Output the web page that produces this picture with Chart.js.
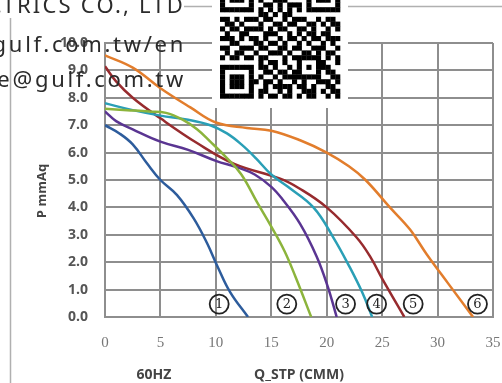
<!DOCTYPE html>
<html>
<head>
<meta charset="utf-8">
<script src="https://cdn.jsdelivr.net/npm/chart.js@4"></script>
<style>
  html, body { margin: 0; padding: 0; background: #fff; }
  canvas { display: block; }
</style>
</head>
<body>
<canvas id="fanChart" width="502" height="383"></canvas>
<script>
// Fan P-Q curves, 60Hz.
const xTicks = [0, 5, 10, 15, 20, 25, 30, 35];
const yTicks = [0, 1, 2, 3, 4, 5, 6, 7, 8, 9, 10];

const q1 = [0, 1.3, 2.5, 3.8, 5.0, 6.5, 8.0, 9.2, 10.2, 11.3, 12.9];
const p1 = [7.0, 6.7, 6.3, 5.6, 5.0, 4.45, 3.6, 2.7, 1.8, 0.9, 0];

const q2 = [0, 2, 4, 5.5, 7, 8.3, 9.5, 11, 12.3, 13.7, 15, 16.2, 17.2, 18.6];
const p2 = [7.6, 7.55, 7.5, 7.45, 7.2, 6.85, 6.4, 5.8, 5.2, 4.2, 3.3, 2.4, 1.45, 0];

const q3 = [0, 1, 2.5, 5, 7.5, 10, 12, 13.5, 15, 16, 17.6, 19.1, 20.1, 20.9];
const p3 = [7.5, 7.15, 6.85, 6.4, 6.1, 5.7, 5.45, 5.2, 4.75, 4.3, 3.4, 2.2, 1.1, 0];

const q4 = [0, 2.5, 5, 7.5, 9.5, 11, 12.3, 13.6, 15, 16.5, 18.8, 20.6, 22.1, 23.2, 24.1];
const p4 = [7.8, 7.55, 7.35, 7.2, 7.0, 6.7, 6.3, 5.8, 5.2, 4.75, 4.0, 2.9, 1.8, 0.9, 0];

const q5 = [0, 1, 2.5, 5, 8.3, 11.6, 15.8, 17.5, 20, 22.7, 24, 25, 27];
const p5 = [9.15, 8.6, 8.0, 7.25, 6.35, 5.6, 5.05, 4.7, 4.0, 2.9, 2.15, 1.4, 0];

const q6 = [0, 2.5, 5, 7.7, 10, 12.8, 15, 17.6, 20, 22, 23.5, 25.7, 27.5, 29, 31, 33.2];
const p6 = [9.55, 9.1, 8.35, 7.65, 7.1, 6.9, 6.8, 6.45, 6.0, 5.5, 5.0, 4.0, 3.2, 2.3, 1.2, 0];

const curveNames = ['1', '2', '3', '4', '5', '6'];
const curveColors = ['#2d5c9c', '#8cb43c', '#5a3592', '#2a9fb6', '#972b2e', '#e27d2c'];
const flows = [q1, q2, q3, q4, q5, q6];
const pressures = [p1, p2, p3, p4, p5, p6];

// circled curve numbers, placed in data units
const markerLabels = ['1', '2', '3', '4', '5', '6'];
const markerX = [10.3, 16.4, 21.7, 24.5, 27.8, 33.6];
const markerY = [0.47, 0.47, 0.47, 0.47, 0.47, 0.47];

// QR-like badge modules (rows of 25)
const qrRows = [
  '1111111001011010101111111',
  '1000001011100110101000001',
  '1011101000110101001011101',
  '1011101011010011101011101',
  '1011101010011100001011101',
  '1000001001101011101000001',
  '1111111010101010101111111',
  '0000000011010110000000000',
  '1101011101100101110010110',
  '0110100010011011001101011',
  '1011011110101100110100101',
  '0100110001110010101101100',
  '1110101101001011010110111',
  '0011000110110100101001010',
  '1100111011001101100111001',
  '0101100100111010011010110',
  '1011011011000101111110101',
  '0000000010110100100011001',
  '1111111011010010101011100',
  '1000001001101101100010110',
  '1011101010010111111110011',
  '1011101101101001010011101',
  '1011101001011110110100110',
  '1000001011001010011101011',
  '1111111010110110101100101'
];

const datasets = flows.map((q, i) => ({
  label: curveNames[i],
  data: q.map((x, j) => ({ x: x, y: pressures[i][j] })),
  borderColor: curveColors[i],
  borderWidth: 2.5,
  pointRadius: 0,
  showLine: true,
  fill: false,
  tension: 0.4
}));

const gridColor = '#8e8e8e';

const decor = {
  id: 'decor',
  beforeDraw(chart) {
    const c = chart.ctx;
    c.save();
    c.fillStyle = '#fff';
    c.fillRect(0, 0, chart.width, chart.height);
    // outer frame
    c.strokeStyle = '#b0b0b0';
    c.lineWidth = 1.5;
    c.beginPath();
    c.moveTo(10.5, 0); c.lineTo(10.5, chart.height);
    c.moveTo(10, 6.5); c.lineTo(chart.width, 6.5);
    c.stroke();
    c.restore();
  },
  afterDraw(chart) {
    const c = chart.ctx;
    const xs = chart.scales.x, ys = chart.scales.y;
    c.save();
    // circled numbers
    c.strokeStyle = '#222';
    c.lineWidth = 1.8;
    c.fillStyle = '#222';
    c.font = '13px "DejaVu Serif"';
    c.textAlign = 'center';
    c.textBaseline = 'middle';
    markerLabels.forEach((t, i) => {
      const px = xs.getPixelForValue(markerX[i]);
      const py = ys.getPixelForValue(markerY[i]);
      c.beginPath();
      c.arc(px, py, 9.5, 0, Math.PI * 2);
      c.stroke();
      c.fillText(t, px, py + 1);
    });

    // side titles
    c.fillStyle = '#444';
    c.font = 'bold 13px "Open Sans"';
    c.save();
    c.translate(42, 191);
    c.rotate(-Math.PI / 2);
    c.fillText('P mmAq', 0, 0);
    c.restore();
    c.font = 'bold 14px "Open Sans"';
    c.fillText('60HZ', 154, 375);

    // company text overlay
    c.fillStyle = '#fff';
    c.fillRect(0, 0, 184, 18);
    c.fillStyle = '#2b2b2b';
    c.font = '22px "Noto Sans"';
    c.textAlign = 'right';
    c.textBaseline = 'alphabetic';
    c.letterSpacing = '2.2px';
    c.fillText('.TRICS CO., LTD', 185, 13);
    c.letterSpacing = '2.7px';
    c.fillText('gulf.com.tw/en', 186, 52);
    c.fillText('e@gulf.com.tw', 186, 87);
    c.letterSpacing = '0px';

    // QR badge
    c.fillStyle = '#fff';
    c.fillRect(212, 0, 136, 108);
    c.fillStyle = '#000';
    const m = 4.8, x0 = 220, y0 = -21.6;
    qrRows.forEach((row, r) => {
      for (let k = 0; k < row.length; k++) {
        if (row[k] === '1') c.fillRect(x0 + k * m, y0 + r * m, m + 0.3, m + 0.3);
      }
    });
    c.restore();
  }
};

new Chart(document.getElementById('fanChart'), {
  type: 'scatter',
  data: { datasets },
  options: {
    responsive: false,
    animation: false,
    devicePixelRatio: 1,
    layout: { padding: { top: 43, right: 9, left: 0, bottom: 0 } },
    plugins: { legend: { display: false }, tooltip: { enabled: false } },
    scales: {
      x: {
        type: 'linear',
        min: 0, max: 35,
        afterBuildTicks: s => { s.ticks = xTicks.map(v => ({ value: v })); },
        afterFit: s => { s.height = 66; s.paddingLeft = 0; s.paddingRight = 0; },
        grid: { color: gridColor, lineWidth: 2, drawTicks: false },
        border: { color: gridColor, width: 2 },
        ticks: {
          padding: 17,
          color: '#777',
          font: { family: '"Liberation Serif"', size: 15 }
        },
        title: {
          display: true,
          text: 'Q_STP (CMM)',
          color: '#444',
          font: { family: '"Open Sans"', size: 14, weight: 'bold' },
          padding: { top: 0, bottom: 0 }
        }
      },
      y: {
        type: 'linear',
        min: 0, max: 10,
        afterBuildTicks: s => { s.ticks = yTicks.map(v => ({ value: v })); },
        afterFit: s => { s.width = 105; s.paddingTop = 0; s.paddingBottom = 0; },
        grid: { color: gridColor, lineWidth: 2, drawTicks: false },
        border: { color: gridColor, width: 2 },
        ticks: {
          padding: 17,
          color: '#555',
          font: { family: '"Open Sans"', size: 14, weight: 'bold' },
          callback: v => Number(v).toFixed(1)
        }
      }
    }
  },
  plugins: [decor]
});
</script>
</body>
</html>
